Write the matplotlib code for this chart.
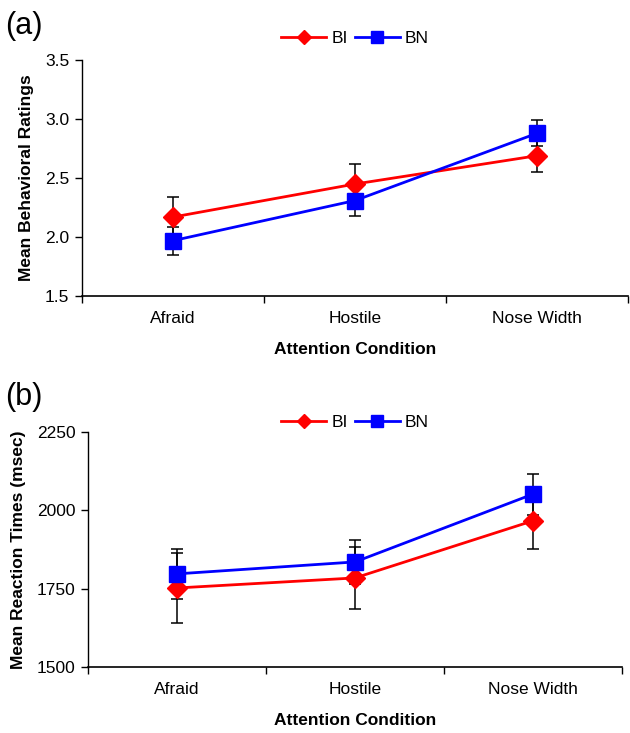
import matplotlib
matplotlib.use("Agg")
import matplotlib.pyplot as plt
import numpy as np

plt.rcParams['font.family'] = ['Liberation Sans', 'DejaVu Sans']

categories = ["Afraid", "Hostile", "Nose Width"]
series_names = ["BI", "BN"]

# Panel (a): Mean Behavioral Ratings
a_bi = [2.17, 2.45, 2.69]
a_bi_err = [0.17, 0.17, 0.14]
a_bn = [1.97, 2.31, 2.88]
a_bn_err = [0.12, 0.13, 0.11]
a_yticks = [1.5, 2.0, 2.5, 3.0, 3.5]

# Panel (b): Mean Reaction Times
b_bi = [1752, 1784, 1966]
b_bi_err = [112, 100, 90]
b_bn = [1797, 1835, 2051]
b_bn_err = [79, 70, 65]
b_yticks = [1500, 1750, 2000, 2250]

RED = "#ff0000"
BLUE = "#0000ff"

fig = plt.figure(figsize=(6.3, 7.33), dpi=100)
ax_a = fig.add_axes([0.130, 0.596, 0.867, 0.322])
ax_b = fig.add_axes([0.140, 0.090, 0.847, 0.321])


def draw(ax, bi, bi_err, bn, bn_err, yticks, ylabel, fmt, legend_y):
    x = np.arange(len(categories))
    for vals, errs in ((bi, bi_err), (bn, bn_err)):
        ax.errorbar(x, vals, yerr=errs, fmt='none', ecolor='black',
                    elinewidth=1.1, capsize=4.5, capthick=1.1, zorder=2)
    ax.plot(x, bi, color=RED, lw=2, marker='D', markersize=10,
            label=series_names[0], zorder=3)
    ax.plot(x, bn, color=BLUE, lw=2, marker='s', markersize=12,
            label=series_names[1], zorder=4)
    ax.set_xlim(-0.5, len(categories) - 0.5)
    ax.set_ylim(yticks[0], yticks[-1])
    ax.set_yticks(yticks)
    ax.set_yticklabels([fmt.format(v) for v in yticks])
    ax.set_xticks(np.arange(-0.5, len(categories), 1.0))
    ax.set_xticklabels([])
    ax.set_xticks(x, minor=True)
    ax.set_xticklabels(categories, minor=True)
    ax.tick_params(axis='x', which='major', direction='out', length=5, width=1)
    ax.tick_params(axis='x', which='minor', length=0, pad=11, labelsize=12.5)
    ax.tick_params(axis='y', direction='out', length=5, width=1, labelsize=12.5,
                   pad=4)
    for s in ('top', 'right'):
        ax.spines[s].set_visible(False)
    ax.spines['left'].set_linewidth(1)
    ax.spines['bottom'].set_linewidth(1.2)
    ax.set_ylabel(ylabel, fontsize=12.5, fontweight='bold', labelpad=8)
    ax.set_xlabel("Attention Condition", fontsize=12.5, fontweight='bold', labelpad=11)
    ax.legend(loc='center', bbox_to_anchor=(0.5, legend_y), ncol=2, frameon=False,
              markerscale=0.7, handlelength=2.6, handletextpad=0.3,
              columnspacing=0.4, fontsize=12.5)


draw(ax_a, a_bi, a_bi_err, a_bn, a_bn_err, a_yticks,
     "Mean Behavioral Ratings", "{:.1f}", 1.093)
draw(ax_b, b_bi, b_bi_err, b_bn, b_bn_err, b_yticks,
     "Mean Reaction Times (msec)", "{:.0f}", 1.04)

fig.text(0.008, 0.965, "(a)", fontsize=22, va='center', ha='left')
fig.text(0.008, 0.458, "(b)", fontsize=22, va='center', ha='left')

fig.savefig("out.png", dpi=100)
